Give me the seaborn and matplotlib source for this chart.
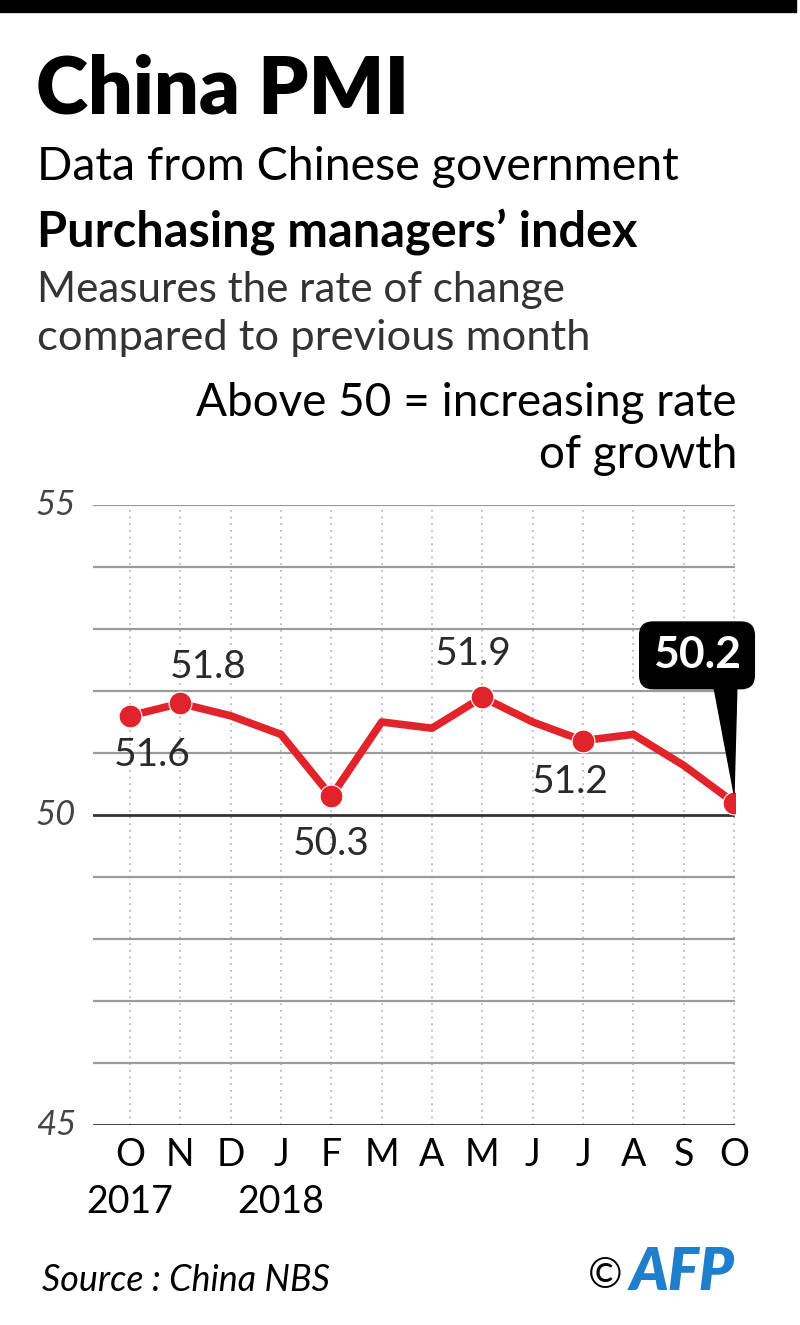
import numpy as np
import pandas as pd
import matplotlib
matplotlib.use("Agg")
import matplotlib.pyplot as plt
from matplotlib.patches import Polygon, Rectangle
import seaborn as sns

# ── Datos
months = ["O", "N", "D", "J", "F", "M", "A", "M", "J", "J", "A", "S", "O"]
pmi = [51.6, 51.8, 51.6, 51.3, 50.3, 51.5, 51.4, 51.9, 51.5, 51.2, 51.3, 50.8, 50.2]
years = {"2017": 0, "2018": 3}
labelled = [0, 1, 4, 7, 9]          # puntos con etiqueta
last_idx = 12

y_ticks = [45, 50, 55]

RED = "#e1242b"
W, H = 800, 1325

df = pd.DataFrame({"idx": range(len(months)), "pmi": pmi})

sns.set_style("white")
plt.rcParams["font.family"] = ["Lato", "DejaVu Sans"]

fig = plt.figure(figsize=(W / 100, H / 100), dpi=100)


def fx(px):
    return px / W


def fy(py):
    return 1 - py / H


# ── Cabecera
fig.patches.append(Rectangle((0, fy(12)), fx(796), 12 / H, transform=fig.transFigure,
                             color="black", zorder=5))
fig.text(fx(36), fy(113), "China PMI", fontsize=57, fontweight="heavy", color="black")
fig.text(fx(37), fy(180), "Data from Chinese government", fontsize=33.5, color="black")
fig.text(fx(37), fy(247), "Purchasing managers\u2019 index", fontsize=35, fontweight="bold", color="black")
fig.text(fx(37), fy(302), "Measures the rate of change", fontsize=30.3, color="#333333")
fig.text(fx(37), fy(350), "compared to previous month", fontsize=31.3, color="#333333")
fig.text(fx(737), fy(416), "Above 50 = increasing rate", fontsize=33, ha="right", color="black")
fig.text(fx(737), fy(468), "of growth", fontsize=33, ha="right", color="black")

# ── Gráfico
ax = fig.add_axes([fx(93), fy(1125), fx(735 - 93), (1125 - 505) / H])
step = (734 - 130) / 12
ax.set_xlim(-(130 - 93) / step, 12 + 1 / step)
ax.set_ylim(45, 55)
for s in ax.spines.values():
    s.set_visible(False)
ax.set_xticks([])
ax.set_yticks([])

for i in range(len(months)):
    ax.plot([i, i], [45, 55], color="#b0b0b0", lw=1.2, ls=(0, (1, 3)), zorder=1)
for v in range(45, 56):
    dark = v in (45, 50)
    ax.axhline(v, color="#333333" if dark else "#9a9a9a", lw=2.0 if dark else 1.6, zorder=2)

for v in y_ticks:
    ax.text(-(130 - 76) / step, v, str(v), ha="right", va="center", fontsize=25,
            fontstyle="italic", color="#444444", clip_on=False)

sns.lineplot(data=df, x="idx", y="pmi", ax=ax, color=RED, lw=5.5, zorder=4)
sns.scatterplot(data=df.iloc[labelled + [last_idx]], x="idx", y="pmi", ax=ax, color=RED,
                s=270, edgecolor="white", linewidth=0.8, zorder=5)
ax.set_xlabel("")
ax.set_ylabel("")

# décalage des étiquettes (idx, valeur)
offsets = {0: (0.44, -0.64), 1: (0.56, 0.58), 4: (0.0, -0.77), 7: (-0.18, 0.69), 9: (-0.26, -0.66)}
for i in labelled:
    dx, dy = offsets[i]
    ax.text(i + dx, pmi[i] + dy, f"{pmi[i]}", ha="center", va="center",
            fontsize=28, color="#2a2a2a", zorder=6)

# ── Recuadro del último valor
bx0, bx1 = (638 - 130) / step, (756 - 130) / step
by0, by1 = 50 + (817 - 690) / 62.0, 50 + (817 - 621) / 62.0
ax.text((bx0 + bx1) / 2, (by0 + by1) / 2 - 0.03, f"{pmi[last_idx]}", ha="center", va="center",
        fontsize=32, fontweight="bold", color="white", zorder=8, clip_on=False,
        bbox=dict(boxstyle="round,pad=0.3,rounding_size=0.3", fc="black", ec="black"))
ax.add_patch(Polygon([[(713 - 130) / step, by0 + 0.1], [(737 - 130) / step, by0 + 0.1],
                      [last_idx, pmi[last_idx] + 0.15]], closed=True, color="black",
                     zorder=7, clip_on=False))

# ── Eje X
for i, m in enumerate(months):
    ax.text(i, 45 - (1166 - 1125) / 62.0, m, ha="center", va="baseline", fontsize=27,
            color="black", clip_on=False)
for y, i in years.items():
    ax.text(i, 45 - (1213 - 1125) / 62.0, y, ha="center", va="baseline", fontsize=27,
            color="black", clip_on=False)

# ── Pie
fig.text(fx(42), fy(1291), "Source : China NBS", fontsize=25.8, fontstyle="italic", color="black")
fig.text(fx(588), fy(1288), "\u00a9", fontsize=30, color="black")
fig.text(fx(630), fy(1290), "AFP", fontsize=42, fontweight="heavy", fontstyle="italic",
         color="#1f7fcc")

fig.savefig("out.png", dpi=100)
